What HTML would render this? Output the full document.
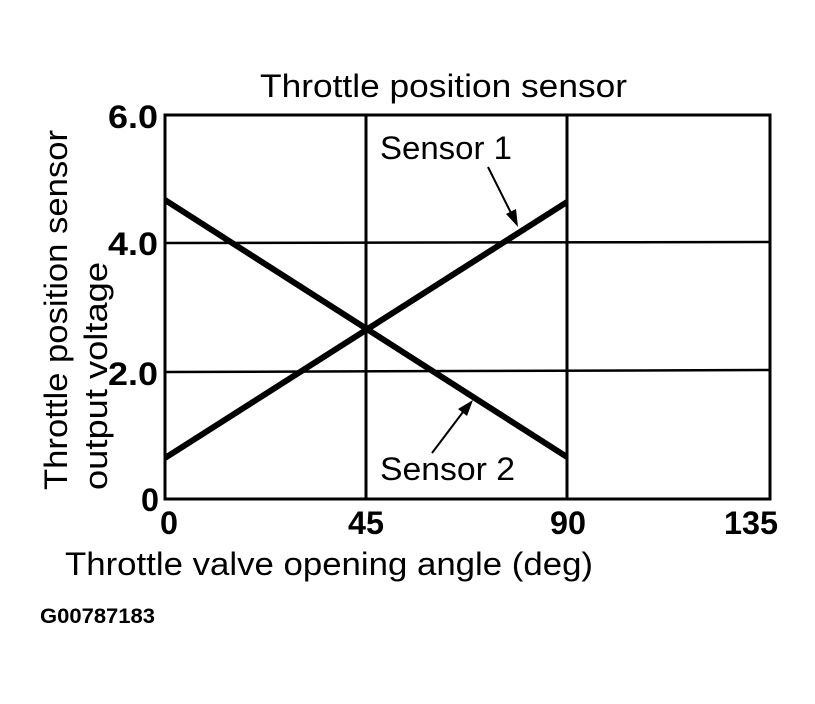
<!DOCTYPE html>
<html><head><meta charset="utf-8"><style>html,body{margin:0;padding:0;background:#fff}</style></head>
<body>
<svg width="815" height="699" viewBox="0 0 815 699" xmlns="http://www.w3.org/2000/svg" font-family="Liberation Sans, sans-serif">
<rect width="815" height="699" fill="#fff"/>
<g stroke="#000" fill="none">
<rect x="165" y="115" width="605" height="384" stroke-width="3"/>
<line x1="366" y1="115" x2="366" y2="499" stroke-width="3"/>
<line x1="567" y1="115" x2="567" y2="499" stroke-width="3"/>
<line x1="165" y1="243" x2="770" y2="242" stroke-width="2.5"/>
<line x1="165" y1="372" x2="770" y2="370" stroke-width="2.5"/>
<line x1="165" y1="458" x2="567" y2="202" stroke-width="6"/>
<line x1="165" y1="200" x2="567" y2="457" stroke-width="6"/>
<line x1="488" y1="167" x2="512" y2="215" stroke-width="2"/>
<line x1="432" y1="453" x2="463" y2="412" stroke-width="2"/>
</g>
<polygon points="518,227 506,214 516,209" fill="#000"/>
<polygon points="473,400 458,409 467,416" fill="#000"/>
<g font-size="32" fill="#000">
<text x="260" y="97" textLength="367" lengthAdjust="spacingAndGlyphs">Throttle position sensor</text>
<text x="65" y="575" textLength="528" lengthAdjust="spacingAndGlyphs">Throttle valve opening angle (deg)</text>
<text x="380" y="159" textLength="132" lengthAdjust="spacingAndGlyphs">Sensor 1</text>
<text x="380" y="480" textLength="135" lengthAdjust="spacingAndGlyphs">Sensor 2</text>
<text transform="translate(67,490) rotate(-90)" textLength="360" lengthAdjust="spacingAndGlyphs">Throttle position sensor</text>
<text transform="translate(107,490) rotate(-90)" textLength="228" lengthAdjust="spacingAndGlyphs">output voltage</text>
</g>
<g font-size="32" font-weight="bold" fill="#000">
<text x="108" y="128" textLength="50" lengthAdjust="spacingAndGlyphs">6.0</text>
<text x="108" y="255" textLength="50" lengthAdjust="spacingAndGlyphs">4.0</text>
<text x="108" y="385" textLength="50" lengthAdjust="spacingAndGlyphs">2.0</text>
<text x="141" y="511" textLength="18" lengthAdjust="spacingAndGlyphs">0</text>
<text x="160" y="534" textLength="18" lengthAdjust="spacingAndGlyphs">0</text>
<text x="348" y="534" textLength="36" lengthAdjust="spacingAndGlyphs">45</text>
<text x="550" y="534" textLength="36" lengthAdjust="spacingAndGlyphs">90</text>
<text x="724" y="534" textLength="54" lengthAdjust="spacingAndGlyphs">135</text>
</g>
<text x="40" y="623" font-size="21" font-weight="bold" textLength="115" lengthAdjust="spacingAndGlyphs">G00787183</text>
</svg>
</body></html>
